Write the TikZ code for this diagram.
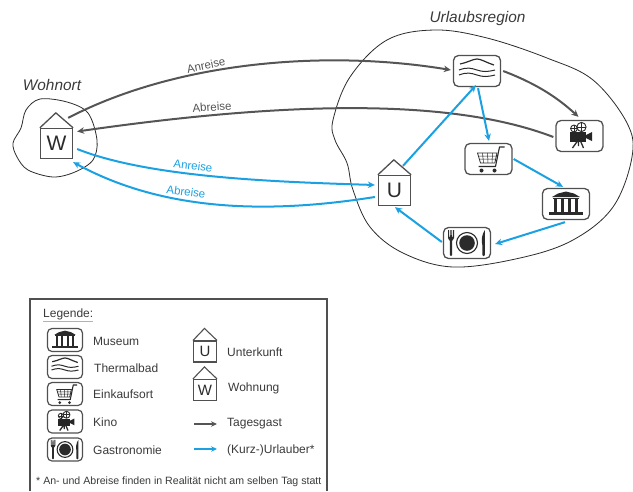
\documentclass[tikz,border=0pt]{standalone}
\usepackage{fontspec}
\setmainfont{Liberation Sans}
\usetikzlibrary{arrows.meta,calc}
\definecolor{ink}{HTML}{2B2B2B}
\definecolor{txt}{HTML}{3A3A3A}
\definecolor{greyarrow}{HTML}{555555}
\definecolor{bluearrow}{HTML}{1BA1E2}
\definecolor{edge}{HTML}{505050}
\tikzset{
  x=1pt,y=-1pt,
  iconbox/.style={draw=edge,line width=1.3pt,rounded corners=5pt,minimum width=47pt,minimum height=31pt,inner sep=0pt},
  smallbox/.style={draw=edge,line width=1.2pt,rounded corners=4.5pt,minimum width=35pt,minimum height=23pt,inner sep=0pt},
  housebody/.style={draw=edge,line width=1.3pt,minimum width=32pt,minimum height=30pt,inner sep=0pt,font=\fontsize{21}{21}\selectfont,text=ink},
  smallhouse/.style={draw=edge,line width=1.1pt,minimum width=23pt,minimum height=21pt,inner sep=0pt,font=\fontsize{15}{15}\selectfont,text=ink},
  roof/.style={draw=edge,line width=1.3pt,line join=miter},
  blob/.style={draw=ink,line width=.8pt},
  greyline/.style={draw=greyarrow,line width=2pt,-{Stealth[length=7pt,width=6.5pt]}},
  blueline/.style={draw=bluearrow,line width=2pt,-{Stealth[length=7pt,width=6.5pt]}},
  arrowtext/.style={font=\fontsize{11.5}{12}\selectfont,inner sep=0pt},
  regiontext/.style={font=\fontsize{15.4}{16}\selectfont\itshape,text=txt,inner sep=0pt},
  legendtext/.style={font=\fontsize{12}{13}\selectfont,text=txt,inner sep=0pt,anchor=west},
  bathicon/.pic={
    \draw[ink,line width=1.2pt] (-17,-7) .. controls (-8,-9) and (-4,-12) .. (0,-12) .. controls (4,-12) and (8,-9) .. (17,-6);
    \draw[ink,line width=1pt] (-18,-1) .. controls (-10,-4) and (-6,-3) .. (0,-1) .. controls (6,1) and (10,1) .. (18,-1);
    \draw[ink,line width=1pt] (-18,4) .. controls (-10,1) and (-6,2) .. (0,4) .. controls (6,6) and (10,6) .. (18,4);
  },
  kinoicon/.pic={
    \fill[black!85] (-10,-4) rectangle (6.5,6);
    \fill[black!85] (6.5,-1) -- (12.5,-4) -- (12.5,5) -- (6.5,2) -- cycle;
    \draw[ink,line width=.9pt] (-5.5,-7.5) circle (3.4);
    \draw[ink,line width=.9pt] (2,-9) circle (4.6);
    \draw[ink,line width=.6pt] (-2.6,-9) -- (6.6,-9) (2,-13.6) -- (2,-4.4) (-8.9,-7.5) -- (-2,-7.5) (-5.5,-10.9) -- (-5.5,-4);
    \draw[ink,line width=1.3pt] (-2,5) -- (-7,12) (-1,5) -- (-1,10) (1,5) -- (4,12);
  },
  carticon/.pic={
    \draw[ink,line width=1.1pt,line join=round] (16,-12) -- (11,-12) -- (7,7.5) -- (-10,7.5);
    \draw[ink,line width=.8pt] (-11,-6) -- (8.5,-6) -- (6.3,4) -- (-8,4) -- cycle;
    \draw[ink,line width=.5pt] (-10.3,-3) -- (8,-3) (-9.5,0) -- (7.3,0) (-6,-6) -- (-5,4) (-1,-6) -- (-.5,4) (4,-6) -- (3.5,4);
    \fill[ink] (-7,11.5) circle (2) (6,11.5) circle (2);
  },
  museumicon/.pic={
    \fill[ink] (-14,-7) -- (-8,-10.5) -- (0,-12.5) -- (8,-10.5) -- (14,-7) -- cycle;
    \fill[ink] (-13,-6.2) rectangle (13,-5);
    \foreach \cx in {-10.5,-3.5,3.5,10.5}{\fill[ink] (\cx-1.4,-5) rectangle (\cx+1.4,8);}
    \fill[ink] (-17,8.3) rectangle (17,11);
  },
  gastroicon/.pic={
    \draw[ink,line width=1.1pt] (0,0) circle (10.5);
    \fill[ink] (0,0) circle (7.8);
    \fill[ink] (-19,-13) -- (-19,-5) .. controls (-19,-3) and (-17,-3) .. (-17,-2) -- (-17.2,12) .. controls (-17,13.5) and (-15,13.5) .. (-14.8,12) -- (-15,-2) .. controls (-15,-3) and (-13,-3) .. (-13,-5) -- (-13,-13) -- (-14,-13) -- (-14.3,-6) -- (-15.2,-6) -- (-15.4,-13) -- (-16.6,-13) -- (-16.8,-6) -- (-17.7,-6) -- (-18,-13) -- cycle;
    \fill[ink] (15.3,12) .. controls (15.5,13.5) and (17.7,13.5) .. (17.9,12) -- (17.9,-13) .. controls (15,-9) and (14,-3) .. (15.3,2) -- cycle;
  },
}
\begin{document}
\begin{tikzpicture}
\useasboundingbox (0,0) rectangle (633,491);
% regions
\draw[blob] plot[smooth cycle,tension=.6] coordinates {(333,120) (350,77) (387,40) (435,30) (487,38) (547,58) (593,80) (627,123) (632,157) (613,207) (573,240) (520,258) (453,267) (403,253) (370,227) (353,190) (347,163) (335,140)};
\draw[blob] plot[smooth cycle,tension=.55] coordinates {(13,143) (21,128) (26,110) (40,99) (67,102) (88,113) (97,140) (93,160) (75,172) (53,177) (28,170) (17,157)};
\node[regiontext] (wohnort) at (52,85) {Wohnort};
\node[regiontext] (urlaub) at (477.5,19) {Urlaubsregion};
% main nodes
\node[housebody] (W) at (56.5,143.5) {W};
\draw[roof] (W.north west) -- ++(16,-15) -- (W.north east);
\node[housebody] (U) at (394.5,190.5) {U};
\draw[roof] (U.north west) -- ++(16,-15) -- (U.north east);
\node[iconbox] (bath) at (477,71) {};
\pic at (bath) {bathicon};
\node[iconbox] (kino) at (579.5,136) {};
\pic at (kino) {kinoicon};
\node[iconbox] (cart) at (488.5,159) {};
\pic at (cart) {carticon};
\node[iconbox] (museum) at (566,204) {};
\pic at (museum) {museumicon};
\node[iconbox] (gastro) at (467,243) {};
\pic at (gastro) {gastroicon};
% grey connectors
\draw[greyline] ([shift={(-5,-10)}]W.north east) .. controls (180,60) and (330,50) .. ([shift={(-2,-1)}]bath.west);
\draw[greyline] ([shift={(-2,1)}]kino.west) .. controls (470,105) and (330,95) .. ([shift={(4,-12)}]W.east);
\draw[greyline] ([shift={(2,0)}]bath.east) .. controls (540,85) and (560,100) .. ([shift={(-1,-3)}]kino.north);
% blue connectors
\draw[blueline] ([shift={(4,5.5)}]W.east) .. controls (150,178) and (280,182) .. ([shift={(-3,-5.5)}]U.west);
\draw[blueline] ([shift={(-3,6.5)}]U.west) .. controls (280,212) and (170,215) .. ([shift={(0,3)}]W.south east);
\draw[blueline] ([shift={(8.5,-9)}]U.north) -- ([shift={(-1,-2)}]bath.south);
\draw[blueline] ([shift={(1,1)}]bath.south) -- ([shift={(.5,-2)}]cart.north);
\draw[blueline] ([shift={(1,0)}]cart.east) -- ([shift={(-3,-1)}]museum.north);
\draw[blueline] ([shift={(-1,2)}]museum.south) -- ([shift={(4,1)}]gastro.east);
\draw[blueline] ([shift={(-1,-1)}]gastro.west) -- ([shift={(.5,1)}]U.south);
% connector labels
\node[arrowtext,text=greyarrow,rotate=12] (l1) at (206,65.5) {Anreise};
\node[arrowtext,text=greyarrow,rotate=4] (l2) at (212,107) {Abreise};
\node[arrowtext,text=bluearrow,rotate=-7] (l3) at (193,166) {Anreise};
\node[arrowtext,text=bluearrow,rotate=-7] (l4) at (186,192) {Abreise};
% legend
\draw[edge,line width=1.2pt] (30,491) -- (30,299) -- (327,299) -- (327,491);
\node[legendtext] (legende) at (43,314) {Legende:};
\draw[gray!60,line width=.7pt] ([yshift=-1.5pt]legende.south west) -- ([yshift=-1.5pt]legende.south east);
\node[smallbox] (lmuseum) at (65,340) {};
\pic[scale=.75] at (lmuseum) {museumicon};
\node[smallbox] (lbath) at (65,367) {};
\pic[scale=.75] at (lbath) {bathicon};
\node[smallbox] (lcart) at (65,394) {};
\pic[scale=.75] at (lcart) {carticon};
\node[smallbox] (lkino) at (65,421.5) {};
\pic[scale=.75] at (lkino) {kinoicon};
\node[smallbox] (lgastro) at (65,449.5) {};
\pic[scale=.75] at (lgastro) {gastroicon};
\node[legendtext] at (93,341) {Museum};
\node[legendtext] at (94,368) {Thermalbad};
\node[legendtext] at (93,394) {Einkaufsort};
\node[legendtext] at (93,422) {Kino};
\node[legendtext] at (93,450) {Gastronomie};
\node[smallhouse] (lU) at (205,351.5) {U};
\draw[roof,line width=1.1pt] (lU.north west) -- ++(11.5,-12) -- (lU.north east);
\node[smallhouse] (lW) at (205,390) {W};
\draw[roof,line width=1.1pt] (lW.north west) -- ++(11.5,-12) -- (lW.north east);
\node[legendtext] at (227,352) {Unterkunft};
\node[legendtext] at (228,388) {Wohnung};
\node[legendtext] at (227,424) {Tagesgast};
\node[legendtext] at (227,450) {(Kurz-)Urlauber*};
\coordinate (ga) at (194,424);
\coordinate (gb) at (217,424);
\coordinate (ba) at (194,449);
\coordinate (bb) at (217,449);
\draw[greyline,-{Stealth[length=6pt,width=5.5pt]}] (ga) -- (gb);
\draw[blueline,-{Stealth[length=6pt,width=5.5pt]}] (ba) -- (bb);
\node[legendtext,font=\fontsize{10.6}{12}\selectfont] (foot) at (36,482) {* An- und Abreise finden in Realität nicht am selben Tag statt};
\end{tikzpicture}
\end{document}
